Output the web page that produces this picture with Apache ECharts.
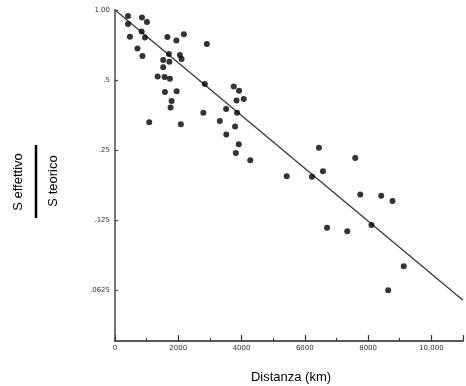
<!DOCTYPE html>
<html>
<head>
<meta charset="utf-8">
<script src="https://cdn.jsdelivr.net/npm/echarts@6/dist/echarts.min.js"></script>
<style>
  html, body { margin: 0; padding: 0; background: #fff; }
  #chart { width: 466px; height: 386px; }
</style>
</head>
<body>
<div id="chart"></div>
<script>
// distanza (km) e rapporto S effettivo / S teorico
var distanze = [410, 852, 1010, 410, 842, 473, 947, 1656, 1940, 2177, 2903, 710, 868, 1704, 2051,
  2104, 1524, 1719, 1524, 1347, 1568, 1735, 2840, 1578, 1947, 1789, 1757, 2792, 1082, 2082,
  3754, 3922, 3840, 4070, 3512, 3859, 3313, 3795, 3518, 3912, 3818, 4275, 6446, 7594, 5427,
  6225, 6572, 7752, 8414, 8771, 6704, 7342, 8108, 9127, 8635];
var rapporti = [0.942, 0.928, 0.888, 0.871, 0.808, 0.768, 0.762, 0.765, 0.739, 0.786, 0.714, 0.683, 0.634, 0.647, 0.641,
  0.616, 0.610, 0.599, 0.567, 0.518, 0.515, 0.506, 0.481, 0.444, 0.448, 0.406, 0.381, 0.362, 0.329, 0.323,
  0.469, 0.450, 0.408, 0.415, 0.375, 0.362, 0.333, 0.316, 0.292, 0.265, 0.243, 0.226, 0.256, 0.231, 0.193,
  0.192, 0.203, 0.161, 0.159, 0.151, 0.116, 0.112, 0.119, 0.0793, 0.0625];

// retta di regressione (estremi)
var rettaX = [0, 11000];
var rettaY = [1.0, 0.0566];

// etichette degli assi
var xTickLabels = ['0', '2000', '4000', '6000', '8000', '10,000'];
var yTickValues = [1, 0.5, 0.25, 0.125, 0.0625];
var yTickLabels = ['1.00', '.5', '.25', '.125', '.0625'];

var punti = distanze.map(function (d, i) { return [d, rapporti[i]]; });
var retta = rettaX.map(function (d, i) { return [d, rettaY[i]]; });

var chart = echarts.init(document.getElementById('chart'));

var option = {
  animation: false,
  grid: { left: 115, right: 3, top: 10, bottom: 45 },
  xAxis: {
    type: 'value',
    min: 0,
    max: 11000,
    interval: 2000,
    axisLine: { lineStyle: { color: '#222', width: 1.5 } },
    axisTick: { inside: true, length: 6, lineStyle: { color: '#333', width: 1.2 } },
    minorTick: { show: true, splitNumber: 2, length: 3, lineStyle: { color: '#333', width: 1 } },
    splitLine: { show: false },
    axisLabel: {
      showMaxLabel: false,
      margin: 4,
      fontFamily: 'DejaVu Sans',
      fontSize: 7,
      color: '#333',
      formatter: function (v) { return xTickLabels[Math.round(v / 2000)] || ''; }
    }
  },
  yAxis: {
    type: 'log',
    logBase: 2,
    min: 0.0378,
    max: 1,
    axisLine: { lineStyle: { color: '#777', width: 2 } },
    axisTick: { inside: true, length: 3, customValues: yTickValues, lineStyle: { color: '#444', width: 1.2 } },
    splitLine: { show: false },
    axisLabel: {
      customValues: yTickValues,
      margin: 5,
      fontFamily: 'DejaVu Sans',
      fontSize: 7,
      color: '#333',
      formatter: function (v) {
        for (var i = 0; i < yTickValues.length; i++) {
          if (Math.abs(yTickValues[i] - v) < 1e-6) return yTickLabels[i];
        }
        return '';
      }
    }
  },
  series: [
    {
      type: 'line',
      data: retta,
      symbol: 'none',
      lineStyle: { color: '#333', width: 1.2 },
      z: 1
    },
    {
      type: 'scatter',
      data: punti,
      symbol: 'circle',
      symbolSize: 6,
      itemStyle: { color: '#000' },
      z: 2
    }
  ],
  graphic: [
    {
      type: 'text', x: 18, y: 182, rotation: Math.PI / 2,
      style: { text: 'S effettivo', align: 'center', verticalAlign: 'middle',
        font: '13px "Liberation Sans"', fill: '#000' }
    },
    {
      type: 'line', shape: { x1: 36, y1: 145, x2: 36, y2: 218 },
      style: { stroke: '#000', lineWidth: 2.5 }
    },
    {
      type: 'text', x: 53, y: 181, rotation: Math.PI / 2,
      style: { text: 'S teorico', align: 'center', verticalAlign: 'middle',
        font: '13px "Liberation Sans"', fill: '#000' }
    },
    {
      type: 'text', x: 291, y: 377,
      style: { text: 'Distanza (km)', align: 'center', verticalAlign: 'middle',
        font: '13px "Liberation Sans"', fill: '#000' }
    }
  ]
};

chart.setOption(option);
</script>
</body>
</html>
